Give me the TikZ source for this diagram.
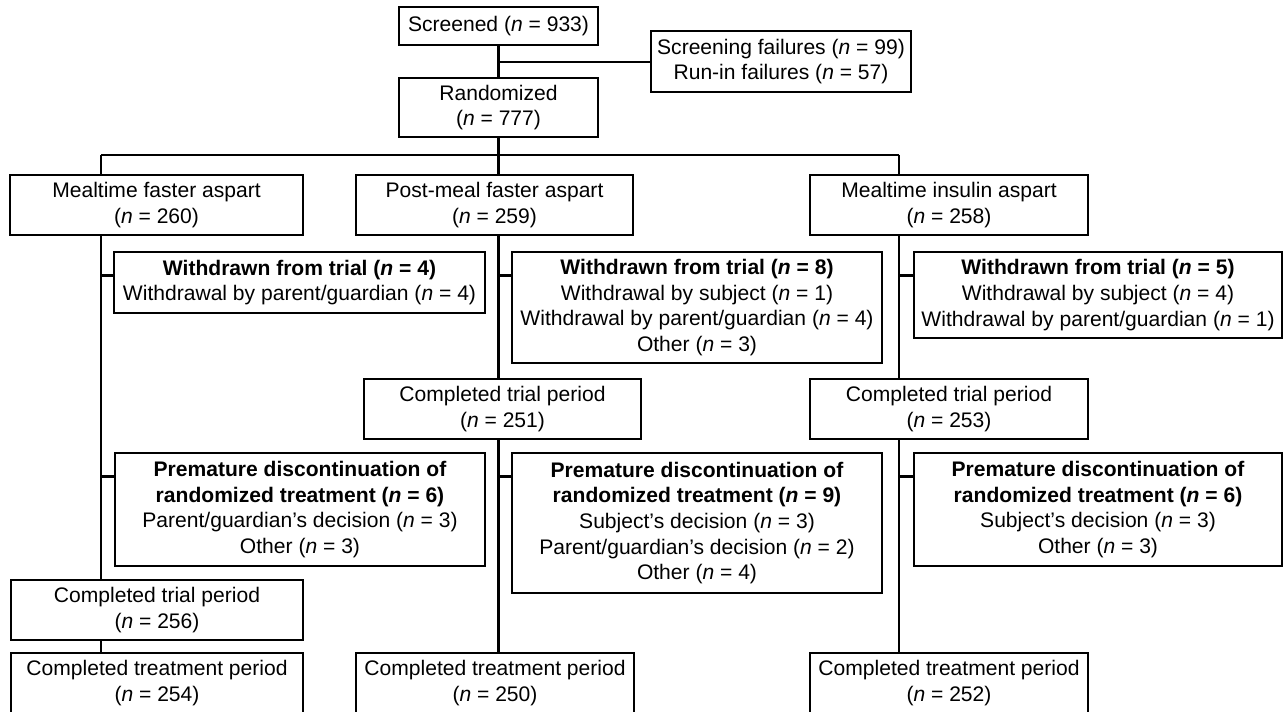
\documentclass[tikz,border=0pt]{standalone}
\usepackage{fontspec}
\setmainfont{Liberation Sans}
\usetikzlibrary{calc}
\newcommand{\nn}{\textit{n}}
\tikzset{
  bx/.style 2 args={draw=black, line width=2pt, minimum width=#1*0.75pt, minimum height=#2*0.75pt,
    inner sep=0pt, align=center, font=\fontsize{15.8}{19.2}\selectfont},
  ln/.style={line width=2pt, draw=black}
}
\begin{document}
\begin{tikzpicture}[x=0.75pt,y=-0.75pt]
\clip (0,0) rectangle (1284,712);
\fill[white] (0,0) rectangle (1284,712);
% top
\node[bx={199}{38}] (scr) at (498.5,26) {Screened (\nn{} = 933)};
\node[bx={260}{61}] (fail) at (781,61.5) {Screening failures (\nn{} = 99)\\Run-in failures (\nn{} = 57)};
\node[bx={199}{59}] (rand) at (498.5,107.5) {Randomized\\(\nn{} = 777)};
% arms
\node[bx={293}{60}] (mf) at (156.5,205) {Mealtime faster aspart\\(\nn{} = 260)};
\node[bx={277}{60}] (pm) at (494.5,205) {Post-meal faster aspart\\(\nn{} = 259)};
\node[bx={278}{60}] (mi) at (949,205) {Mealtime insulin aspart\\(\nn{} = 258)};
% withdrawn
\node[bx={371}{61}] (w1) at (299.5,282.5) {\textbf{Withdrawn from trial (\nn{} = 4)}\\Withdrawal by parent/guardian (\nn{} = 4)};
\node[bx={370}{111}] (w2) at (697,307.5) {\textbf{Withdrawn from trial (\nn{} = 8)}\\Withdrawal by subject (\nn{} = 1)\\Withdrawal by parent/guardian (\nn{} = 4)\\Other (\nn{} = 3)};
\node[bx={368}{86}] (w3) at (1098,295) {\textbf{Withdrawn from trial (\nn{} = 5)}\\Withdrawal by subject (\nn{} = 4)\\Withdrawal by parent/guardian (\nn{} = 1)};
% completed trial
\node[bx={277}{60}] (ct251) at (502.5,409) {Completed trial period\\(\nn{} = 251)};
\node[bx={278}{60}] (ct253) at (949,409) {Completed trial period\\(\nn{} = 253)};
% premature
\node[bx={370}{113}] (p1) at (300,509.5) {\textbf{Premature discontinuation of}\\\textbf{randomized treatment (\nn{} = 6)}\\Parent/guardian’s decision (\nn{} = 3)\\Other (\nn{} = 3)};
\node[bx={370}{140}] (p2) at (697,523) {\textbf{Premature discontinuation of}\\\textbf{randomized treatment (\nn{} = 9)}\\Subject’s decision (\nn{} = 3)\\Parent/guardian’s decision (\nn{} = 2)\\Other (\nn{} = 4)};
\node[bx={368}{113}] (p3) at (1098,509.5) {\textbf{Premature discontinuation of}\\\textbf{randomized treatment (\nn{} = 6)}\\Subject’s decision (\nn{} = 3)\\Other (\nn{} = 3)};
% bottom
\node[bx={292}{60}] (ct256) at (157,610) {Completed trial period\\(\nn{} = 256)};
\node[bx={292}{60}] (tr254) at (157,683) {Completed treatment period\\(\nn{} = 254)};
\node[bx={278}{60}] (tr250) at (495,683) {Completed treatment period\\(\nn{} = 250)};
\node[bx={278}{60}] (tr252) at (949,683) {Completed treatment period\\(\nn{} = 252)};
% connectors
\coordinate (br) at (498.5,62);
\coordinate (hL) at (101,155);
\coordinate (hM) at (498.5,155);
\coordinate (hR) at (899,155);
\draw[ln] (scr.south) -- (rand.north);
\draw[ln] (br) -- (br -| fail.west);
\draw[ln] (rand.south) -- (hM);
\draw[ln] (hL) -- (hR);
\draw[ln] (hL) -- (hL |- mf.north);
\draw[ln] (hM) -- (hM |- pm.north);
\draw[ln] (hR) -- (hR |- mi.north);
% left column
\draw[ln] (hL |- mf.south) -- (hL |- ct256.north);
\draw[ln] (hL |- ct256.south) -- (hL |- tr254.north);
% middle column
\draw[ln] (hM |- pm.south) -- (hM |- ct251.north);
\draw[ln] (hM |- ct251.south) -- (hM |- tr250.north);
% right column
\draw[ln] (hR |- mi.south) -- (hR |- ct253.north);
\draw[ln] (hR |- ct253.south) -- (hR |- tr252.north);
% ticks
\coordinate (t1) at ($(w1.north west)+(0,25)$);
\coordinate (t2) at ($(w2.north west)+(0,25)$);
\coordinate (t3) at ($(w3.north west)+(0,25)$);
\coordinate (u1) at ($(p1.north west)+(0,25)$);
\coordinate (u2) at ($(p2.north west)+(0,25)$);
\coordinate (u3) at ($(p3.north west)+(0,25)$);
\draw[ln] (t1 -| hL) -- (t1);
\draw[ln] (t2 -| hM) -- (t2);
\draw[ln] (t3 -| hR) -- (t3);
\draw[ln] (u1 -| hL) -- (u1);
\draw[ln] (u2 -| hM) -- (u2);
\draw[ln] (u3 -| hR) -- (u3);
\end{tikzpicture}
\end{document}
